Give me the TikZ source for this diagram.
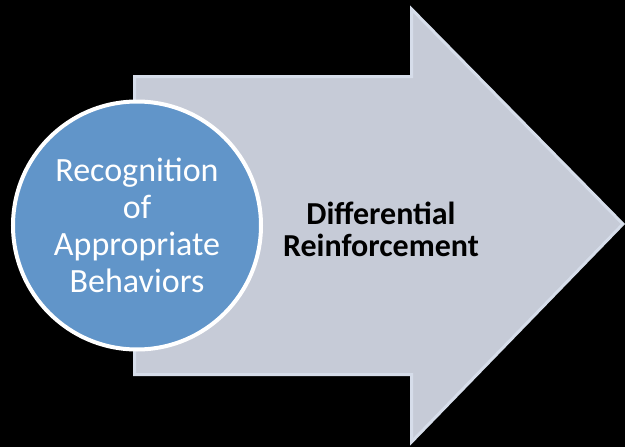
\documentclass[tikz,border=0pt]{standalone}
\usepackage{fontspec}
\setmainfont{Carlito}
\begin{document}
\begin{tikzpicture}[x=1pt,y=-1pt,
  arrowbody/.style={fill=arrowgray,draw=arrowedge,line width=3pt,line join=miter},
  disc/.style={circle,fill=discblue,draw=white,line width=4pt,minimum size=248pt,inner sep=0pt},
  disctext/.style={text=white,align=center,font=\fontsize{34}{37}\selectfont},
  arrowtext/.style={text=black,align=center,font=\bfseries\fontsize{32}{32}\selectfont}]
\definecolor{arrowgray}{HTML}{C6CBD7}
\definecolor{arrowedge}{HTML}{D6DDEA}
\definecolor{discblue}{HTML}{6195C9}
\fill[black] (0,0) rectangle (625,447);
\useasboundingbox (0,0) rectangle (625,447);
% block arrow
\draw[arrowbody] (134.5,76.5) -- (411.5,76.5) -- (411.5,9) -- (623,224)
  -- (411.5,442) -- (411.5,374.5) -- (134.5,374.5) -- cycle;
\node[arrowtext] (label) at (381,229) {Differential\\Reinforcement};
% circle with its text
\node[disc] (circ) at (137,225.5) {};
\node[disctext] (ctext) at (circ.center) {Recognition\\of\\Appropriate\\Behaviors};
\end{tikzpicture}
\end{document}
